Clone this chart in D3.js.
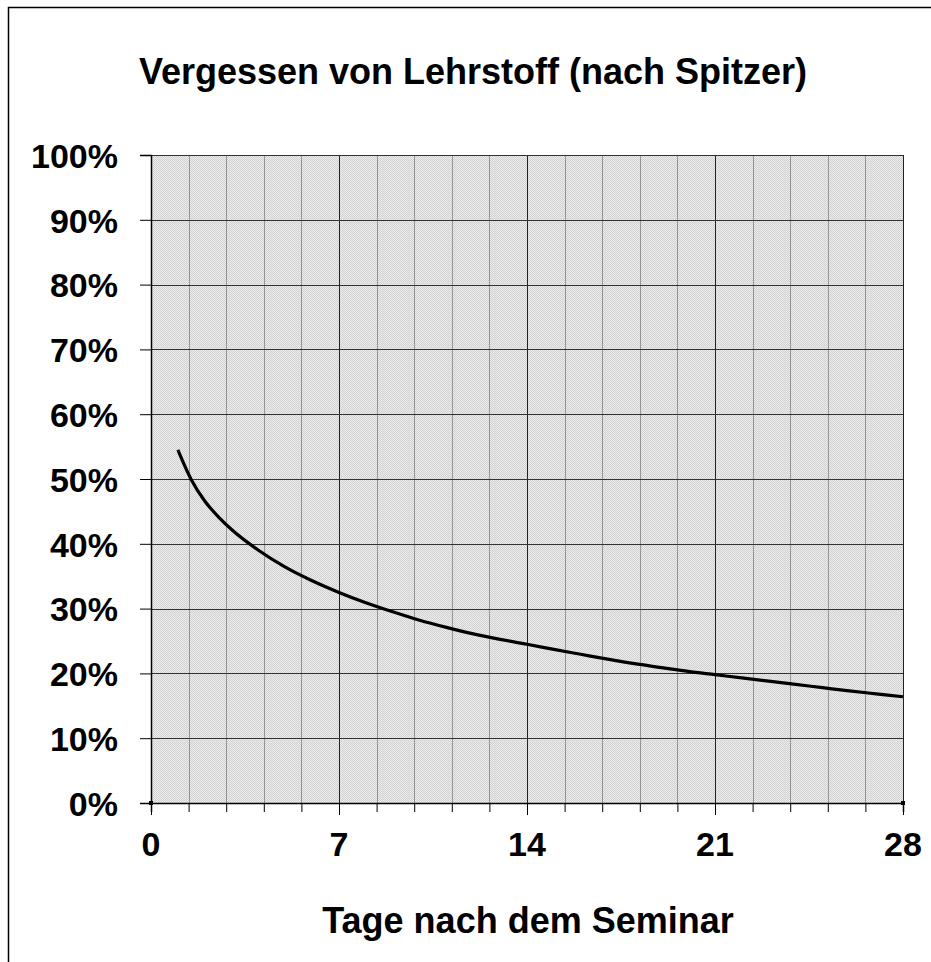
<!DOCTYPE html>
<html>
<head>
<meta charset="utf-8">
<script src="https://cdn.jsdelivr.net/npm/d3@7"></script>
<style>
	body { margin: 0; background: #fff; }
	svg { display: block; font-family: "Liberation Sans", Arial, sans-serif; font-weight: bold; }
</style>
</head>
<body>
<div id="chart"></div>
<script>
// values
const days = [1, 1.5, 2, 2.5, 3, 4, 5, 6, 7, 8, 9, 10, 11, 12, 13, 14, 15, 16, 17, 18, 19, 20, 21, 22, 23, 24, 25, 26, 27, 28];
const retained = [54.5, 49.9, 46.6, 44.2, 42.2, 39.0, 36.4, 34.3, 32.5, 30.9, 29.5, 28.2, 27.1, 26.1, 25.25, 24.5, 23.7, 22.95, 22.2, 21.5, 20.9, 20.3, 19.8, 19.3, 18.8, 18.3, 17.8, 17.3, 16.85, 16.4];
const xLabels = [0, 7, 14, 21, 28];
const yTicks = [0, 10, 20, 30, 40, 50, 60, 70, 80, 90, 100];
const gridStep = 1.4; // minor vertical grid every 1.4 days
const title = 'Vergessen von Lehrstoff (nach Spitzer)';
const xTitle = 'Tage nach dem Seminar';

const width = 931, height = 962;
const margin = {t:155, r:28, b:159, l:151};
const w = width - margin.l - margin.r;
const h = height - margin.t - margin.b;

const data = days.map((d, i) => ({day:d, value:retained[i]}));
const gridDays = d3.range(0, 21).map(k => k * gridStep);

const scaleX = d3.scaleLinear().domain([0, 28]).range([0, w]);
const scaleY = d3.scaleLinear().domain([0, 100]).range([h, 0]);

const svg = d3.select('#chart').append('svg')
	.attr('width', width)
	.attr('height', height);

// outer frame (runs off the right and bottom edge)
svg.append('rect')
	.attr('x', 8.5).attr('y', 7.5)
	.attr('width', width + 20).attr('height', height + 20)
	.attr('fill', 'none')
	.attr('stroke', '#000')
	.attr('stroke-width', 1.5);

// hatched gray background
const defs = svg.append('defs');
const pat = defs.append('pattern')
	.attr('id', 'hatch')
	.attr('width', 2).attr('height', 2)
	.attr('patternUnits', 'userSpaceOnUse');
pat.append('rect').attr('width', 2).attr('height', 2).attr('fill', '#ebebeb');
pat.append('rect').attr('width', 1).attr('height', 1).attr('fill', '#d2d2d2');
pat.append('rect').attr('x', 1).attr('y', 1).attr('width', 1).attr('height', 1).attr('fill', '#d2d2d2');

const plot = svg.append('g')
	.attr('transform', `translate(${margin.l},${margin.t})`);

plot.append('rect')
	.attr('width', w).attr('height', h)
	.attr('fill', 'url(#hatch)');

// vertical grid
plot.selectAll('.vgrid')
	.data(gridDays)
	.enter().append('line')
	.attr('class', 'vgrid')
	.attr('x1', d => Math.round(scaleX(d)) + 0.5)
	.attr('x2', d => Math.round(scaleX(d)) + 0.5)
	.attr('y1', 0).attr('y2', h)
	.attr('stroke', (d, i) => i % 5 === 0 ? '#222' : '#969696')
	.attr('stroke-width', 1);

// horizontal grid
plot.selectAll('.hgrid')
	.data(yTicks)
	.enter().append('line')
	.attr('class', 'hgrid')
	.attr('x1', 0).attr('x2', w)
	.attr('y1', d => Math.round(scaleY(d)) + 0.5)
	.attr('y2', d => Math.round(scaleY(d)) + 0.5)
	.attr('stroke', '#333')
	.attr('stroke-width', 1);

// y axis
const axisY = d3.axisLeft(scaleY)
	.tickValues(yTicks)
	.tickSize(11)
	.tickPadding(22)
	.tickFormat(d => d + '%');

const axisYNode = plot.append('g')
	.attr('class', 'axis-y')
	.call(axisY);
axisYNode.select('.domain').attr('stroke', '#000').attr('stroke-width', 1.5);
axisYNode.selectAll('line').attr('stroke', '#000');
axisYNode.selectAll('text')
	.attr('fill', '#000')
	.style('font-size', '34px')
	.style('font-weight', 'bold')
	.attr('dy', '0.36em');

// x axis with minor ticks at the grid and longer ones at each week
const axisX = d3.axisBottom(scaleX)
	.tickValues(gridDays)
	.tickSize(9)
	.tickFormat('');

const axisXNode = plot.append('g')
	.attr('class', 'axis-x')
	.attr('transform', `translate(0,${h})`)
	.call(axisX);
axisXNode.select('.domain').attr('stroke', '#000').attr('stroke-width', 1.5);
axisXNode.selectAll('.tick line')
	.attr('stroke', '#000')
	.attr('y2', (d, i) => i % 5 === 0 ? 12 : 9);

plot.selectAll('.xlabel')
	.data(xLabels)
	.enter().append('text')
	.attr('class', 'xlabel')
	.attr('x', d => scaleX(d))
	.attr('y', h + 53)
	.attr('text-anchor', 'middle')
	.style('font-size', '34px')
	.text(d => d);

// small corner markers
plot.selectAll('.corner')
	.data([0, 28])
	.enter().append('rect')
	.attr('x', d => scaleX(d) - 2)
	.attr('y', h - 2)
	.attr('width', 4).attr('height', 4)
	.attr('fill', '#000');

// curve
const line = d3.line()
	.x(d => scaleX(d.day))
	.y(d => scaleY(d.value))
	.curve(d3.curveMonotoneX);

plot.append('path')
	.datum(data)
	.attr('d', line)
	.attr('fill', 'none')
	.attr('stroke', '#000')
	.attr('stroke-width', 3.2);

// titles
svg.append('text')
	.attr('x', 473)
	.attr('y', 84)
	.attr('text-anchor', 'middle')
	.style('font-size', '36px')
	.text(title);

svg.append('text')
	.attr('x', 528)
	.attr('y', 933)
	.attr('text-anchor', 'middle')
	.style('font-size', '36px')
	.text(xTitle);
</script>
</body>
</html>
